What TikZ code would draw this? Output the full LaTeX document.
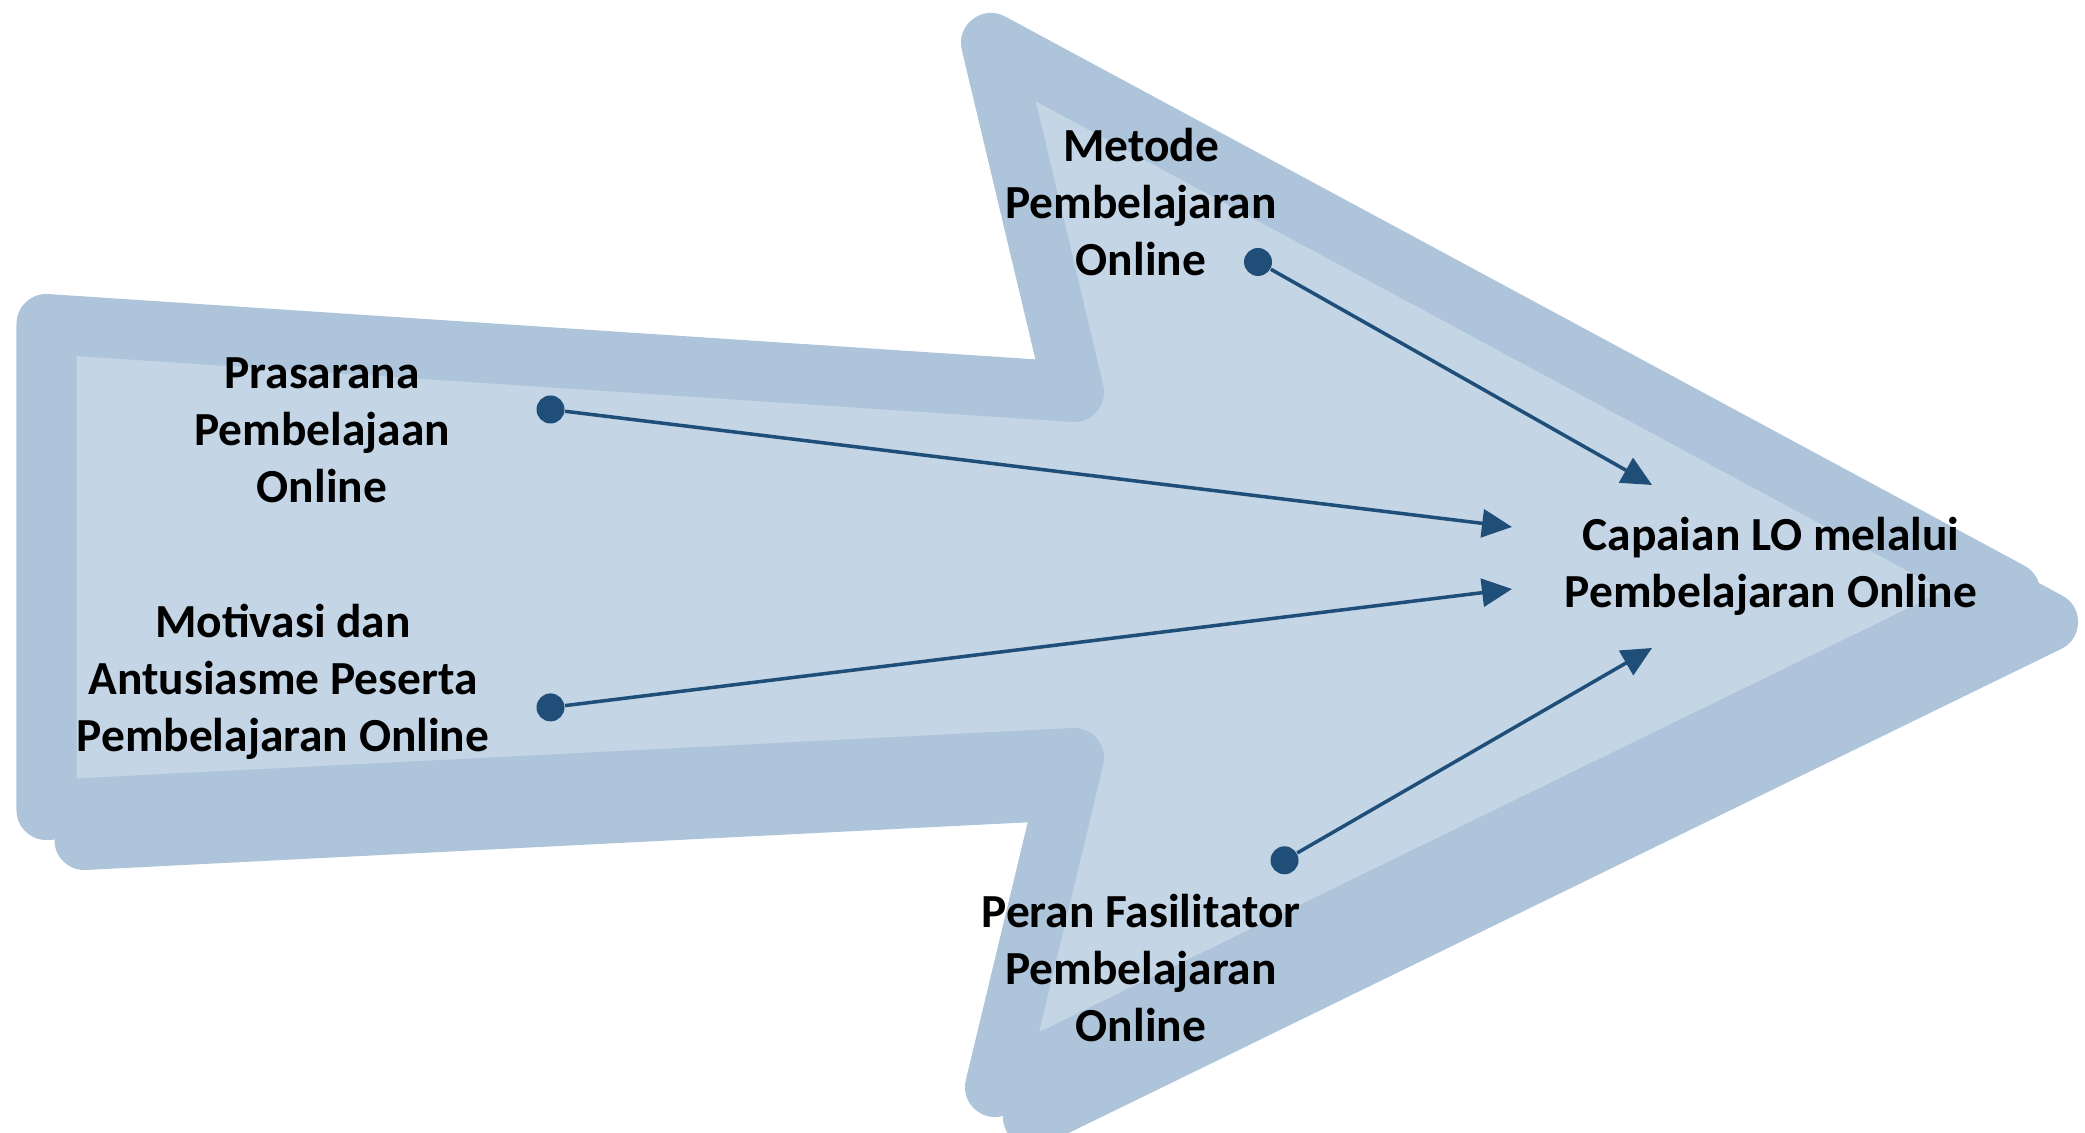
\documentclass[tikz,border=0pt]{standalone}
\usepackage{fontspec}
\setmainfont{Carlito}
\usetikzlibrary{arrows.meta}
\definecolor{band}{RGB}{173,196,218}
\definecolor{inner}{RGB}{196,214,229}
\definecolor{link}{RGB}{31,78,121}
\tikzstyle{every node} = [align=center, font=\bfseries\fontsize{13.5}{16.2}\selectfont]
\tikzstyle{outline} = [line width=0.6cm, line join=round, draw=band]
\tikzstyle{dot} = [circle, fill=link, inner sep=0pt, minimum size=0.28cm]
\tikzstyle{link} = [draw=link, line width=1pt, -{Triangle[length=0.3cm, width=0.28cm]}]

\begin{document}
\begin{tikzpicture}
    \useasboundingbox (0,0) rectangle (20.85,11.32);

    \filldraw[outline, fill=band, shift={(0.38,-0.3)}]
        (0.465,8.08) -- (10.74,7.40) -- (9.91,10.89) -- (20.10,5.40)
        -- (9.95,0.45) -- (10.74,3.74) -- (0.465,3.22) -- cycle;
    \filldraw[outline, fill=inner]
        (0.465,8.08) -- (10.74,7.40) -- (9.91,10.89) -- (20.10,5.40)
        -- (9.95,0.45) -- (10.74,3.74) -- (0.465,3.22) -- cycle;

    \node (metode) at (11.41,9.30) {Metode\\Pembelajaran\\Online};
    \node (prasarana) at (3.22,7.02) {Prasarana\\Pembelajaan\\Online};
    \node (motivasi) at (2.83,4.50) {Motivasi dan\\Antusiasme Peserta\\Pembelajaran Online};
    \node (peran) at (11.41,1.64) {Peran Fasilitator\\Pembelajaran\\Online};
    \node (capaian) at (17.71,5.66) {Capaian LO melalui\\Pembelajaran Online};

    \node[dot] (dmetode) at (12.58,8.70) {};
    \node[dot] (dprasarana) at (5.505,7.225) {};
    \node[dot] (dmotivasi) at (5.505,4.246) {};
    \node[dot] (dperan) at (12.845,2.717) {};

    \coordinate (cmetode) at (16.52,6.47);
    \coordinate (cprasarana) at (15.12,6.05);
    \coordinate (cmotivasi) at (15.12,5.43);
    \coordinate (cperan) at (16.52,4.84);

    \draw[link] (dmetode) -- (cmetode);
    \draw[link] (dprasarana) -- (cprasarana);
    \draw[link] (dmotivasi) -- (cmotivasi);
    \draw[link] (dperan) -- (cperan);
\end{tikzpicture}
\end{document}
